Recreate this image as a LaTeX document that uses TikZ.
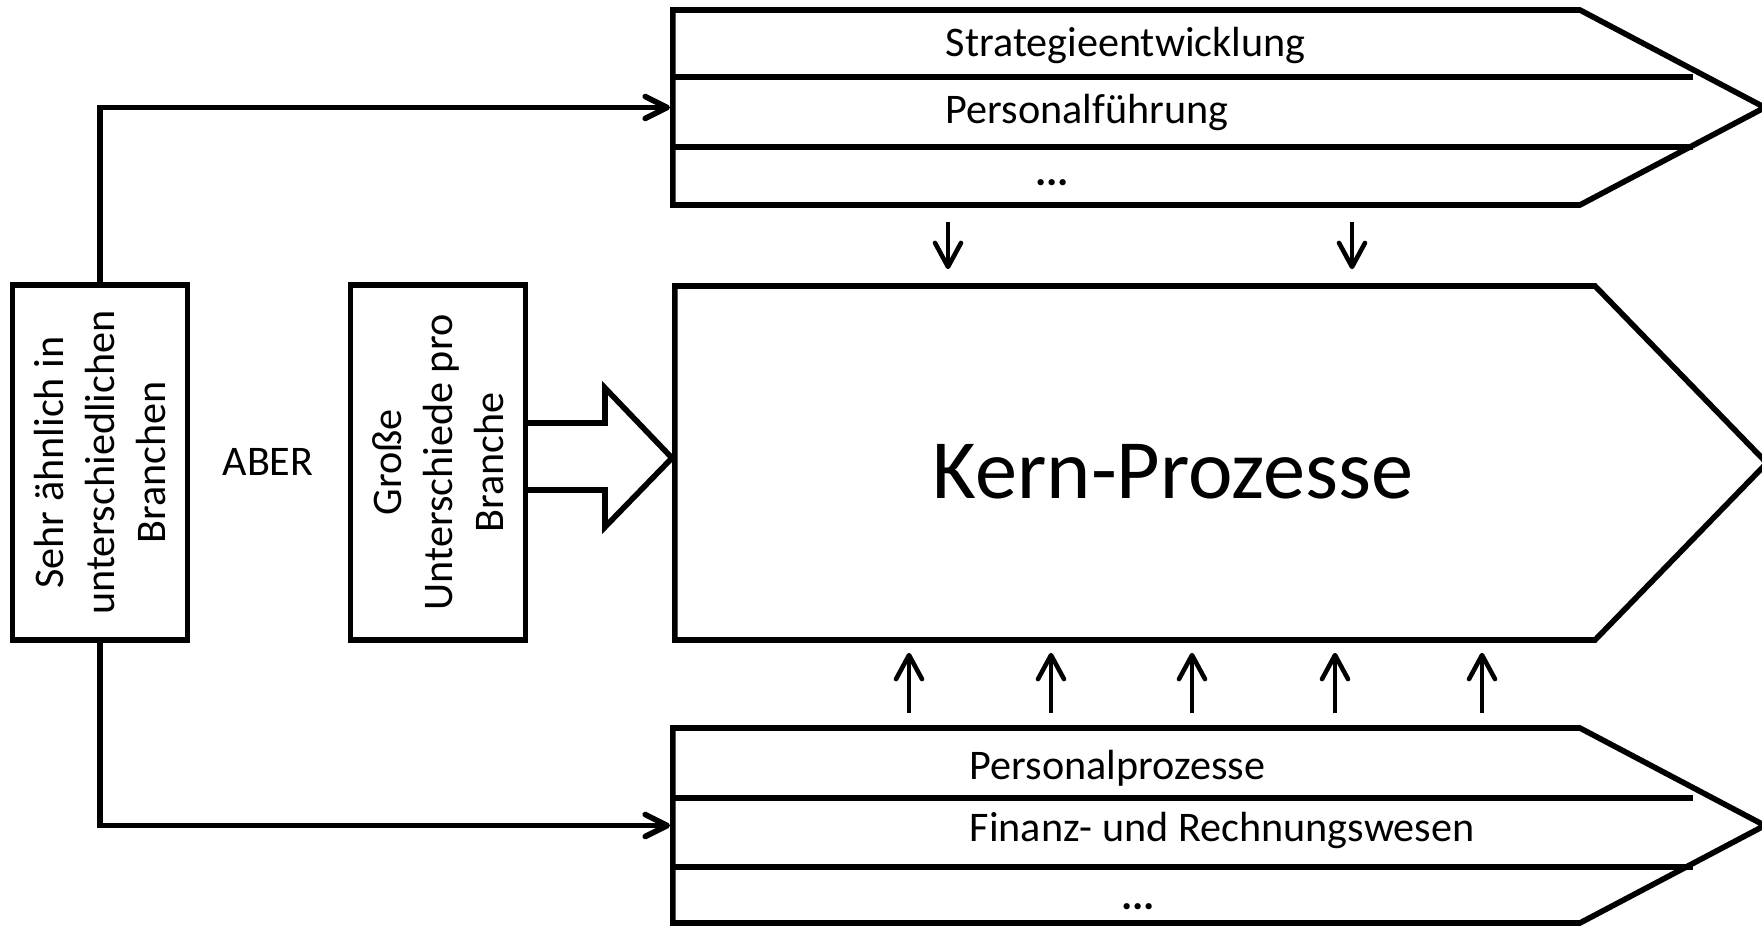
\documentclass[tikz,border=0pt]{standalone}
\usepackage{fontspec}
\setmainfont{Carlito}
\usetikzlibrary{positioning, arrows.meta, shapes.symbols}

\begin{document}
\begin{tikzpicture}[line width=1.6pt, every node/.style={font=\fontsize{12}{14.5}\selectfont, inner sep=0pt},
    chevron/.style={draw, signal, signal to=east, minimum width=10.92cm, anchor=west},
    sidebox/.style={draw, rotate=90, minimum width=3.55cm, minimum height=1.75cm, align=center},
    thinarr/.style={line width=1.3pt, -{Straight Barb[round, length=2.4mm, width=2.6mm]}},
    linkarr/.style={-{Straight Barb[round, length=2.2mm, width=2.2mm]}}]
    \useasboundingbox (0,0) rectangle (17.62,9.26);
    % Process chevrons
    \node[chevron, minimum height=1.95cm, signal pointer angle=55.6] (proc) at (6.70,8.185) {};
    \node[chevron, minimum height=3.54cm, signal pointer angle=91.7] (kern) at (6.72,4.63) {};
    \node[chevron, minimum height=1.95cm, signal pointer angle=55.6] (supp) at (6.70,1.005) {};
    % Row dividers
    \foreach \y in {8.49,7.79,1.28,0.59} {
        \draw (6.70,\y) -- (16.93,\y);
    }
    % Row labels
    \node[anchor=west] (strat) at (9.43,8.81) {Strategieentwicklung};
    \node[anchor=west] (fuehr) at (9.43,8.14) {Personalführung};
    \node (more1) at (10.52,7.43) {\textbf{...}};
    \node[anchor=west] (pers) at (9.67,1.58) {Personalprozesse};
    \node[anchor=west] (fin) at (9.67,0.96) {Finanz- und Rechnungswesen};
    \node (more2) at (11.38,0.19) {\textbf{...}};
    \node[font=\fontsize{24}{29}\selectfont] (kerntxt) at (11.73,4.54) {Kern-Prozesse};
    % Side boxes
    \node[sidebox] (sim) at (1.00,4.635) {Sehr ähnlich in\\unterschiedlichen\\Branchen};
    \node (aber) at (2.68,4.64) {ABER};
    \node[sidebox] (diff) at (4.38,4.635) {Große\\Unterschiede pro\\Branche};
    % Links
    \draw[linkarr] (sim.east) |- (proc.west);
    \draw[linkarr] (sim.west) |- (supp.west);
    \foreach \x in {9.48,13.52} {
        \draw[thinarr, shorten <=1.4mm, shorten >=1.4mm] (\x,0 |- proc.south) -- (\x,0 |- kern.north);
    }
    \foreach \x in {9.09,10.51,11.92,13.35,14.82} {
        \draw[thinarr, shorten <=1.2mm, shorten >=1.0mm] (\x,0 |- supp.north) -- (\x,0 |- kern.south);
    }
    % Block arrow
    \draw (5.26,5.03) -- (6.05,5.03) -- (6.05,5.38) -- (6.72,4.68) -- (6.05,3.99) -- (6.05,4.36) -- (5.26,4.36);
\end{tikzpicture}
\end{document}
